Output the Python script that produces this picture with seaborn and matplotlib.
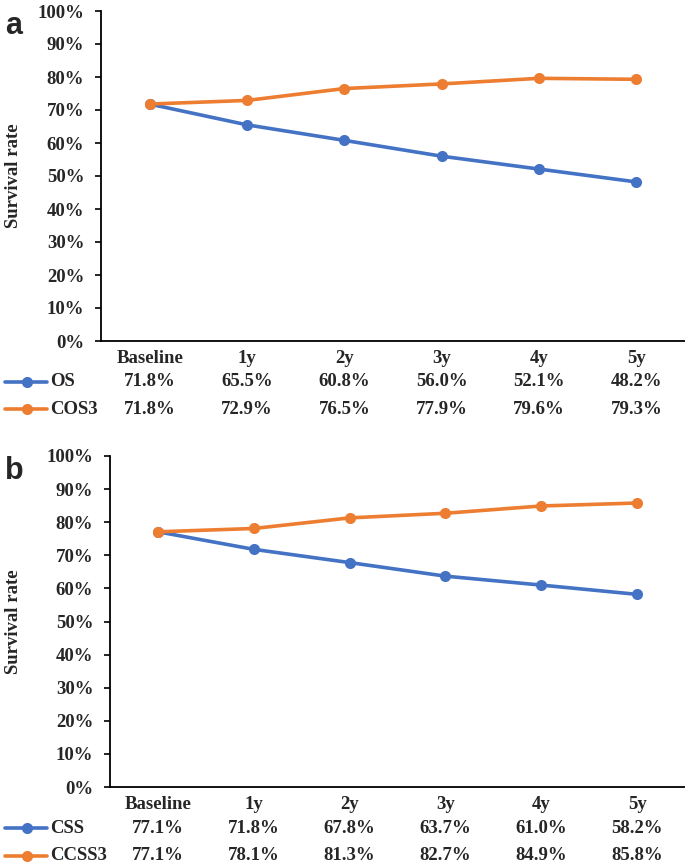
import seaborn as sns
import matplotlib.pyplot as plt
import pandas as pd
from matplotlib.lines import Line2D
from matplotlib.ticker import FuncFormatter
import matplotlib.transforms as mtransforms

# data
times = ["Baseline", "1y", "2y", "3y", "4y", "5y"]
os_rate = [71.8, 65.5, 60.8, 56.0, 52.1, 48.2]
cos3_rate = [71.8, 72.9, 76.5, 77.9, 79.6, 79.3]
css_rate = [77.1, 71.8, 67.8, 63.7, 61.0, 58.2]
ccss3_rate = [77.1, 78.1, 81.3, 82.7, 84.9, 85.8]

blue = "#4472C4"
orange = "#ED7D31"

sns.set_style("white")
plt.rcParams['font.family'] = ['Liberation Serif', 'DejaVu Serif']
plt.rcParams['font.weight'] = 'bold'

W, H = 685, 867
fig = plt.figure(figsize=(W / 100, H / 100), dpi=100)


def panel(left, top, bottom, names, series, letter):
    # axes placed in pixel units
    ax = fig.add_axes([left / W, 1 - bottom / H, (W - left) / W, (bottom - top) / H])
    df = pd.DataFrame({
        "Time": times * 2,
        "Rate": series[0] + series[1],
        "Series": [names[0]] * len(times) + [names[1]] * len(times),
    })
    sns.lineplot(data=df, x="Time", y="Rate", hue="Series", hue_order=names,
                 palette=[blue, orange], marker="o", markersize=8,
                 markeredgewidth=0, linewidth=2.6, legend=False, ax=ax)
    ax.set_xlim(-0.5, len(times) - 0.5)
    ax.set_ylim(0, 100)
    ax.set_yticks(range(0, 101, 10))
    ax.yaxis.set_major_formatter(FuncFormatter(lambda v, p: f"{v:.0f}%"))
    ax.tick_params(axis="y", left=True, length=4, width=1.2, pad=8, labelsize=13.5, color="black")
    ax.tick_params(axis="x", bottom=False, pad=3, labelsize=13.5)
    ax.set_xlabel("")
    ax.set_ylabel("")
    sns.despine(ax=ax)
    for s in ["left", "bottom"]:
        ax.spines[s].set_color("black")
        ax.spines[s].set_linewidth(1.3)

    fig.text(14 / W, 1 - (top + bottom) / 2 / H, "Survival rate", rotation=90,
             ha="center", va="center", fontsize=13.5, fontweight="bold")
    fig.text(5 / W, 1 - (top + 15) / H, letter, ha="left", va="center",
             fontsize=22, fontweight="bold", family="Liberation Sans")

    # data table under the axis
    trans = mtransforms.blended_transform_factory(fig.transFigure, ax.transAxes)
    for row_y, name, vals, col in zip([-0.124, -0.207], names, series, [blue, orange]):
        ax.add_line(Line2D([5 / W, 47 / W], [row_y, row_y], color=col, linewidth=2.6,
                           transform=trans, clip_on=False))
        ax.add_line(Line2D([27 / W], [row_y], color=col, marker="o", markersize=8,
                           markeredgewidth=0, transform=trans, clip_on=False))
        ax.text(50 / W, row_y, name, transform=trans, ha="left", va="center",
                fontsize=13.5, fontweight="bold")
        for i, v in enumerate(vals):
            ax.text(i, row_y, f"{v:.1f}%", transform=ax.get_xaxis_transform(),
                    ha="center", va="center", fontsize=13.5, fontweight="bold")
    return ax


panel(101, 11, 341, ["OS", "COS3"], [os_rate, cos3_rate], "a")
panel(110, 456, 787, ["CSS", "CCSS3"], [css_rate, ccss3_rate], "b")

fig.savefig("out.png", dpi=100)
